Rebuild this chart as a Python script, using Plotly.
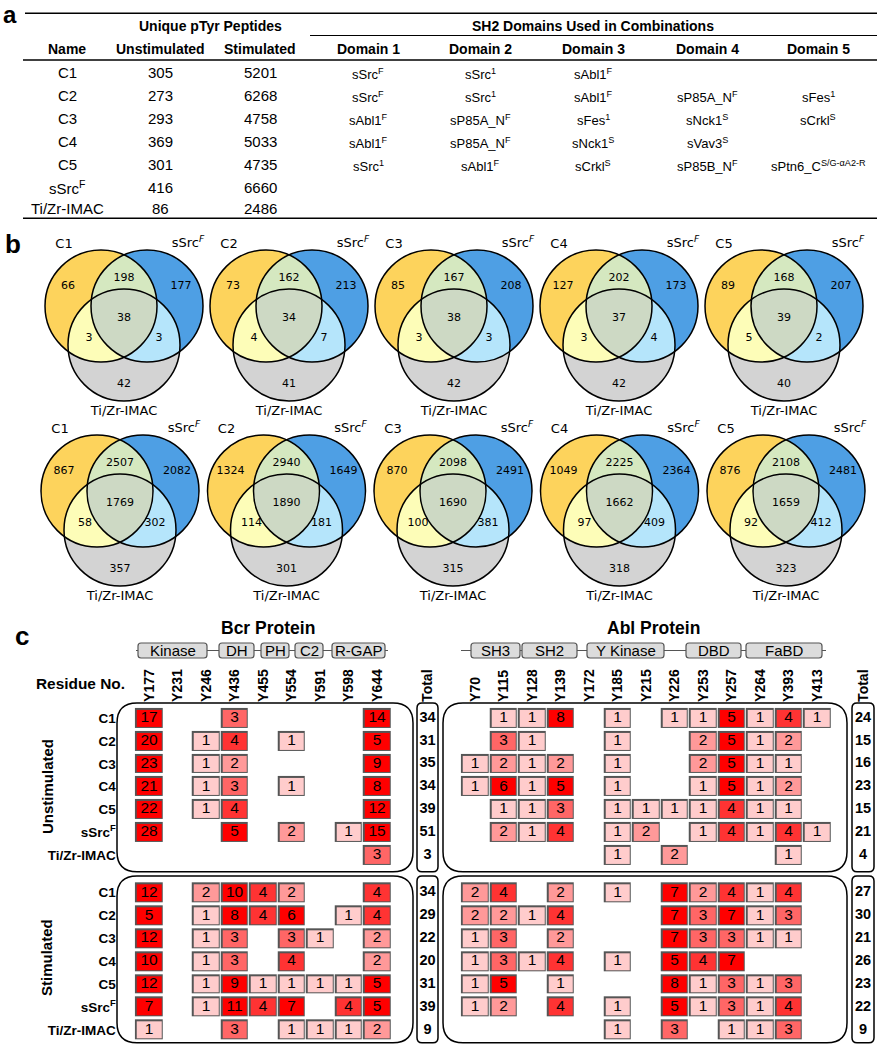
import numpy as np
import plotly.graph_objects as go

# ======================= DATA =======================
# ---- panel a : table ----
table_names = ["C1", "C2", "C3", "C4", "C5", "sSrc<sup>F</sup>", "Ti/Zr-IMAC"]
unique_unstim = [305, 273, 293, 369, 301, 416, 86]
unique_stim = [5201, 6268, 4758, 5033, 4735, 6660, 2486]
domain1 = ["sSrc<sup>F</sup>", "sSrc<sup>F</sup>", "sAbl1<sup>F</sup>", "sAbl1<sup>F</sup>", "sSrc<sup>1</sup>", "", ""]
domain2 = ["sSrc<sup>1</sup>", "sSrc<sup>1</sup>", "sP85A_N<sup>F</sup>", "sP85A_N<sup>F</sup>", "sAbl1<sup>F</sup>", "", ""]
domain3 = ["sAbl1<sup>F</sup>", "sAbl1<sup>F</sup>", "sFes<sup>1</sup>", "sNck1<sup>S</sup>", "sCrkl<sup>S</sup>", "", ""]
domain4 = ["", "sP85A_N<sup>F</sup>", "sNck1<sup>S</sup>", "sVav3<sup>S</sup>", "sP85B_N<sup>F</sup>", "", ""]
domain5 = ["", "sFes<sup>1</sup>", "sCrkl<sup>S</sup>", "", "sPtn6_C<sup>S/G-αA2-R</sup>", "", ""]
table_headers = ["Name", "Unstimulated", "Stimulated", "Domain 1", "Domain 2", "Domain 3", "Domain 4", "Domain 5"]

# ---- panel b : Venn diagrams (C-only, C&S, S-only, all, C&T, S&T, T-only) ----
venn_names = ["C1", "C2", "C3", "C4", "C5"]
venn_ref = "sSrc<sup><i>F</i></sup>"
venn_bottom = "Ti/Zr-IMAC"
unstim_c_only = [66, 73, 85, 127, 89]
unstim_c_s = [198, 162, 167, 202, 168]
unstim_s_only = [177, 213, 208, 173, 207]
unstim_all = [38, 34, 38, 37, 39]
unstim_c_t = [3, 4, 3, 3, 5]
unstim_s_t = [3, 7, 3, 4, 2]
unstim_t_only = [42, 41, 42, 42, 40]
stim_c_only = [867, 1324, 870, 1049, 876]
stim_c_s = [2507, 2940, 2098, 2225, 2108]
stim_s_only = [2082, 1649, 2491, 2364, 2481]
stim_all = [1769, 1890, 1690, 1662, 1659]
stim_c_t = [58, 114, 100, 97, 92]
stim_s_t = [302, 181, 381, 409, 412]
stim_t_only = [357, 301, 315, 318, 323]

# ---- panel c : residue heat maps ----
bcr_residues = ["Y177", "Y231", "Y246", "Y436", "Y455", "Y554", "Y591", "Y598", "Y644"]
abl_residues = ["Y70", "Y115", "Y128", "Y139", "Y172", "Y185", "Y215", "Y226", "Y253",
                "Y257", "Y264", "Y393", "Y413"]
sample_rows = ["C1", "C2", "C3", "C4", "C5", "sSrc<sup>F</sup>", "Ti/Zr-IMAC"]
N = None
bcr_unstim = [
    [17, N, N, 3, N, N, N, N, 14],
    [20, N, 1, 4, N, 1, N, N, 5],
    [23, N, 1, 2, N, N, N, N, 9],
    [21, N, 1, 3, N, 1, N, N, 8],
    [22, N, 1, 4, N, N, N, N, 12],
    [28, N, N, 5, N, 2, N, 1, 15],
    [N, N, N, N, N, N, N, N, 3],
]
bcr_stim = [
    [12, N, 2, 10, 4, 2, N, N, 4],
    [5, N, 1, 8, 4, 6, N, 1, 4],
    [12, N, 1, 3, N, 3, 1, N, 2],
    [10, N, 1, 3, N, 4, N, N, 2],
    [12, N, 1, 9, 1, 1, 1, 1, 5],
    [7, N, 1, 11, 4, 7, N, 4, 5],
    [1, N, N, 3, N, 1, 1, 1, 2],
]
abl_unstim = [
    [N, 1, 1, 8, N, 1, N, 1, 1, 5, 1, 4, 1],
    [N, 3, 1, N, N, 1, N, N, 2, 5, 1, 2, N],
    [1, 2, 1, 2, N, 1, N, N, 2, 5, 1, 1, N],
    [1, 6, 1, 5, N, 1, N, N, 1, 5, 1, 2, N],
    [N, 1, 1, 3, N, 1, 1, 1, 1, 4, 1, 1, N],
    [N, 2, 1, 4, N, 1, 2, N, 1, 4, 1, 4, 1],
    [N, N, N, N, N, 1, N, 2, N, N, N, 1, N],
]
abl_stim = [
    [2, 4, N, 2, N, 1, N, 7, 2, 4, 1, 4, N],
    [2, 2, 1, 4, N, N, N, 7, 3, 7, 1, 3, N],
    [1, 3, N, 2, N, N, N, 7, 3, 3, 1, 1, N],
    [1, 3, 1, 4, N, 1, N, 5, 4, 7, N, N, N],
    [1, 5, N, 1, N, N, N, 8, 1, 3, 1, 3, N],
    [1, 2, N, 4, N, 1, N, 5, 1, 3, 1, 4, N],
    [N, N, N, N, N, 1, N, 3, N, 1, 1, 3, N],
]
bcr_total_unstim = [34, 31, 35, 34, 39, 51, 3]
bcr_total_stim = [34, 29, 22, 20, 31, 39, 9]
abl_total_unstim = [24, 15, 16, 23, 15, 21, 4]
abl_total_stim = [27, 30, 21, 26, 23, 22, 9]
bcr_domains = ["Kinase", "DH", "PH", "C2", "R-GAP"]
abl_domains = ["SH3", "SH2", "Y Kinase", "DBD", "FaBD"]

# ======================= STYLE / LAYOUT CONSTANTS =======================
W, H = 885, 1050
FA = "Liberation Sans, Arial, sans-serif"
FD = "DejaVu Sans, sans-serif"
BORDER = "#555555"

fig = go.Figure()
shapes = []
annotations = []


def ann(x, y, text, size, bold=False, family=FA, xanchor="center", angle=0, yanchor="middle"):
    annotations.append(dict(
        x=x, y=y, xref="x", yref="y", text=text, showarrow=False,
        font=dict(family=family, size=size, color="black", weight="bold" if bold else "normal"),
        xanchor=xanchor, yanchor=yanchor, textangle=angle, borderpad=0))


def hline(x0, x1, y, w):
    shapes.append(dict(type="line", xref="x", yref="y", x0=x0, x1=x1, y0=y, y1=y,
                       line=dict(color="black", width=w), layer="below"))


def rrect(x0, y0, x1, y1, r, lw=1.5, fill="rgba(0,0,0,0)", lc="black"):
    p = (f"M{x0 + r},{y0} L{x1 - r},{y0} Q{x1},{y0} {x1},{y0 + r} L{x1},{y1 - r} "
         f"Q{x1},{y1} {x1 - r},{y1} L{x0 + r},{y1} Q{x0},{y1} {x0},{y1 - r} "
         f"L{x0},{y0 + r} Q{x0},{y0} {x0 + r},{y0} Z")
    shapes.append(dict(type="path", xref="x", yref="y", path=p, fillcolor=fill,
                       line=dict(color=lc, width=lw), layer="below"))


# ======================= PANEL a =======================
annotations.append(dict(x=10 / W, y=1.0, xref="paper", yref="paper", text="a",
                        showarrow=False, xanchor="center", yanchor="top", borderpad=0,
                        font=dict(family=FA, size=24, color="black", weight="bold")))
hline(25, 877, 13.3, 1.6)
ann(210, 26, "Unique pTyr Peptides", 14, bold=True)
ann(593, 26, "SH2 Domains Used in Combinations", 14, bold=True)
hline(310, 877, 35.5, 1.1)
col_x = [67, 160, 260, 368, 480, 593, 707, 818]
for h, x in zip(table_headers, col_x):
    ann(x, 49, h, 14, bold=True)
hline(23, 877, 60, 1.6)
row_y = [72, 95, 118, 141, 164, 187, 208]
columns = [table_names, unique_unstim, unique_stim, domain1, domain2, domain3, domain4, domain5]
for ci, (col, x) in enumerate(zip(columns, col_x)):
    for v, y in zip(col, row_y):
        if v == "":
            continue
        if ci < 3:
            ann(x, y, str(v), 15)
        else:
            ann(x, y + 2, str(v), 13)
hline(23, 877, 218.3, 1.6)

# ======================= PANEL b =======================
ann(13, 244, "b", 26, bold=True)
R = 56.0
C_YEL, C_BLU, C_GRY = "#fdd35c", "#4e9fe4", "#d3d3d3"
C_YB, C_YG, C_BG, C_ALL = "#d5e8c0", "#fdfdb8", "#b5e5fb", "#cdd9c4"


def region_path(circles):
    pts = []
    for i, (cx, cy) in enumerate(circles):
        t = np.linspace(0, 2 * np.pi, 721)
        px, py = cx + R * np.cos(t), cy + R * np.sin(t)
        m = np.ones_like(px, dtype=bool)
        for j, (ox, oy) in enumerate(circles):
            if j != i:
                m &= (px - ox) ** 2 + (py - oy) ** 2 <= R * R * 1.0001
        pts.append(np.c_[px[m], py[m]])
    P = np.vstack(pts)
    c = P.mean(axis=0)
    P = P[np.argsort(np.arctan2(P[:, 1] - c[1], P[:, 0] - c[0]))]
    return "M" + " L".join(f"{a:.2f},{b:.2f}" for a, b in P) + " Z"


def venn(cx, cy, vals, label):
    Y, B, G = (cx - 23, cy), (cx + 23, cy), (cx, cy + 39)
    for circ, col in [([Y], C_YEL), ([B], C_BLU), ([G], C_GRY), ([Y, B], C_YB),
                      ([Y, G], C_YG), ([B, G], C_BG), ([Y, B, G], C_ALL)]:
        shapes.append(dict(type="path", xref="x", yref="y", path=region_path(circ),
                           fillcolor=col, line=dict(width=0), layer="below"))
    for (ox, oy) in (Y, B, G):
        shapes.append(dict(type="circle", xref="x", yref="y", x0=ox - R, x1=ox + R,
                           y0=oy - R, y1=oy + R, line=dict(color="black", width=1.5),
                           fillcolor="rgba(0,0,0,0)", layer="below"))
    offs = [(-56, -20), (0, -28), (57, -20), (0, 12), (-35, 32), (35, 32), (0, 78)]
    fig.add_trace(go.Scatter(
        x=[cx + o[0] for o in offs], y=[cy + o[1] for o in offs], mode="text",
        text=[str(v) for v in vals], textposition="middle center",
        textfont=dict(family=FD, size=11, color="black"), hoverinfo="skip",
        showlegend=False, xaxis="x", yaxis="y", cliponaxis=False))
    fig.add_trace(go.Scatter(
        x=[cx - 60, cx + 64, cx], y=[cy - 61, cy - 62, cy + 106], mode="text",
        text=[label, venn_ref, venn_bottom], textposition="middle center",
        textfont=dict(family=FD, size=13, color="black"), hoverinfo="skip",
        showlegend=False, xaxis="x", yaxis="y", cliponaxis=False))


unstim_sets = [unstim_c_only, unstim_c_s, unstim_s_only, unstim_all, unstim_c_t, unstim_s_t, unstim_t_only]
stim_sets = [stim_c_only, stim_c_s, stim_s_only, stim_all, stim_c_t, stim_s_t, stim_t_only]
for i, name in enumerate(venn_names):
    venn(124 + 165 * i, 306, [s[i] for s in unstim_sets], name)
    venn(120 + 166.5 * i, 491, [s[i] for s in stim_sets], name)

# ======================= PANEL c =======================
ann(22, 636, "c", 26, bold=True)
ann(268, 628, "Bcr Protein", 17.5, bold=True)
ann(653, 628, "Abl Protein", 17.5, bold=True)
# domain schematics
for (lx0, lx1), boxes, names in [
    ((136, 388), [(138, 207), (219, 254), (261, 289), (295, 323), (332, 385)], bcr_domains),
    ((461, 826), [(471, 520), (522, 577), (587, 664), (686, 741), (746, 822)], abl_domains),
]:
    shapes.append(dict(type="line", xref="x", yref="y", x0=lx0, x1=lx1, y0=650.5, y1=650.5,
                       line=dict(color="#555555", width=1.2), layer="below"))
    for (b0, b1), nm in zip(boxes, names):
        rrect(b0, 643, b1, 658, 3, lw=1.2, fill="#dcdcdc", lc="#555555")
        ann((b0 + b1) / 2, 650.5, nm, 15)

ann(80, 683, "Residue No.", 15.4, bold=True)
ann(47, 787, "Unstimulated", 15, bold=True, angle=-90)
ann(46, 958, "Stimulated", 15, bold=True, angle=-90)

# rounded frames
U_TOP, U_BOT, S_TOP, S_BOT = 703, 871.7, 876, 1042.7
for (x0, x1) in [(117, 413), (443, 847)]:
    rrect(x0, U_TOP, x1, U_BOT, 20)
    rrect(x0, S_TOP, x1, S_BOT, 20)
for (x0, x1) in [(417, 438), (852, 874)]:
    rrect(x0, U_TOP, x1, U_BOT, 5)
    rrect(x0, S_TOP, x1, S_BOT, 5)


def dx(a, b):
    return [a / W, b / W]


def dy(top, bottom):
    return [1 - bottom / H, 1 - top / H]


def cat_x(domain, cats, anchor, show):
    return dict(domain=domain, type="category", categoryorder="array", categoryarray=cats,
                range=[-0.5, len(cats) - 0.5], side="top", anchor=anchor, showticklabels=show,
                tickangle=-90, tickfont=dict(family=FA, size=14, color="black", weight="bold"),
                ticks="", showgrid=False, zeroline=False, showline=False, fixedrange=True,
                ticklabelstandoff=4)


def cat_y(domain, cats, anchor, show):
    return dict(domain=domain, type="category", categoryorder="array", categoryarray=cats,
                range=[len(cats) - 0.5, -0.5], anchor=anchor, showticklabels=show,
                tickfont=dict(family=FA, size=13.5, color="black", weight="bold"),
                ticks="", showgrid=False, zeroline=False, showline=False, fixedrange=True,
                ticklabelstandoff=18)


UD = dy(706.9, 866.4)
SD = dy(881.3, 1041.5)
BX = dx(134.75, 391.25)
AX = dx(460.75, 831.25)

layout_axes = dict(
    xaxis=dict(domain=[0, 1], range=[0, W], visible=False, fixedrange=True),
    yaxis=dict(domain=[0, 1], range=[H, 0], visible=False, fixedrange=True),
    xaxis2=cat_x(BX, bcr_residues, "y2", True),
    yaxis2=cat_y(UD, sample_rows, "x2", True),
    xaxis3=cat_x(BX, bcr_residues, "y3", False),
    yaxis3=cat_y(SD, sample_rows, "x3", True),
    xaxis4=cat_x(AX, abl_residues, "y4", True),
    yaxis4=cat_y(UD, sample_rows, "x4", False),
    xaxis5=cat_x(AX, abl_residues, "y5", False),
    yaxis5=cat_y(SD, sample_rows, "x5", False),
    xaxis6=cat_x(dx(417, 438), ["Total"], "y2", True),
    xaxis7=cat_x(dx(417, 438), ["Total"], "y3", False),
    xaxis8=cat_x(dx(852, 874), ["Total"], "y4", True),
    xaxis9=cat_x(dx(852, 874), ["Total"], "y5", False),
)


def heat(xa, ya, residues, mat):
    mask = [[1 if v is not None else None for v in r] for r in mat]
    fig.add_trace(go.Heatmap(x=residues, y=sample_rows, z=mask, xaxis=xa, yaxis=ya,
                             colorscale=[[0, BORDER], [1, BORDER]], zmin=0, zmax=1,
                             showscale=False, xgap=1, ygap=3, hoverinfo="skip"))
    fig.add_trace(go.Heatmap(x=residues, y=sample_rows, z=mat,
                             xaxis=xa, yaxis=ya, colorscale=[[0, "#ffffff"], [1, "#ff0000"]],
                             zmin=0, zmax=5, showscale=False, xgap=4, ygap=6, hoverinfo="skip"))
    cx, cy, ct = [], [], []
    for r, row in zip(sample_rows, mat):
        for c, v in zip(residues, row):
            if v is not None:
                cx.append(c)
                cy.append(r)
                ct.append(str(v))
    fig.add_trace(go.Scatter(x=cx, y=cy, text=ct, mode="text", textposition="middle center",
                             textfont=dict(family=FA, size=15.5, color="black"),
                             xaxis=xa, yaxis=ya, hoverinfo="skip", showlegend=False,
                             cliponaxis=False))


heat("x2", "y2", bcr_residues, bcr_unstim)
heat("x3", "y3", bcr_residues, bcr_stim)
heat("x4", "y4", abl_residues, abl_unstim)
heat("x5", "y5", abl_residues, abl_stim)

for xa, ya, tot in [("x6", "y2", bcr_total_unstim), ("x7", "y3", bcr_total_stim),
                    ("x8", "y4", abl_total_unstim), ("x9", "y5", abl_total_stim)]:
    fig.add_trace(go.Scatter(x=["Total"] * len(tot), y=sample_rows, text=[str(t) for t in tot],
                             mode="text", textposition="middle center",
                             textfont=dict(family=FA, size=14.5, color="black", weight="bold"),
                             xaxis=xa, yaxis=ya, hoverinfo="skip", showlegend=False,
                             cliponaxis=False))

fig.update_layout(
    width=W, height=H, margin=dict(l=0, r=0, t=0, b=0, pad=0),
    paper_bgcolor="white", plot_bgcolor="rgba(0,0,0,0)",
    showlegend=False, shapes=shapes, annotations=annotations,
    font=dict(family=FA, color="black"),
    **layout_axes,
)

fig.write_html("out.html", include_plotlyjs=True, config={"displayModeBar": False},
               post_script="document.body.style.margin='0';document.body.style.overflow='hidden';")
